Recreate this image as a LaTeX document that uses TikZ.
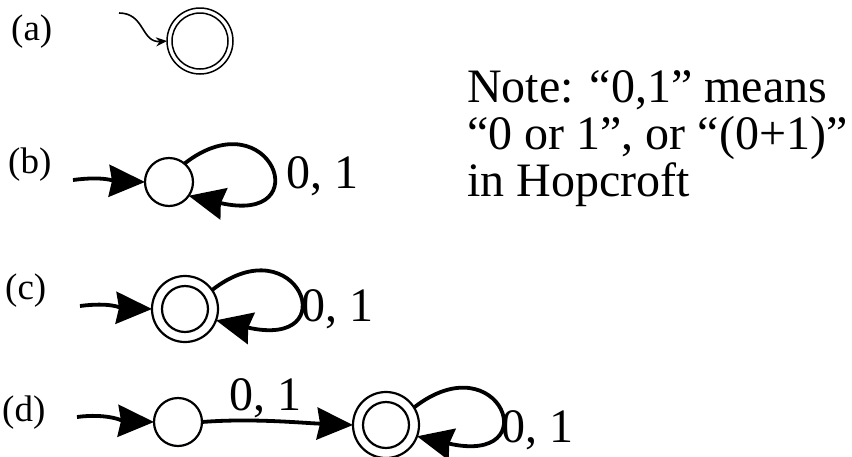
\documentclass[tikz,border=0pt]{standalone}
\usepackage{fontspec}
\setmainfont{Liberation Serif}
\usetikzlibrary{arrows.meta}
\begin{document}
\begin{tikzpicture}[x=1pt,y=-1pt,
  state/.style={circle,draw,line width=2.2pt,inner sep=0pt,outer sep=0pt,minimum size=48pt},
  accout/.style={circle,draw,line width=2.2pt,inner sep=0pt,outer sep=0pt,minimum size=66pt},
  accin/.style={circle,draw,line width=2.2pt,inner sep=0pt,minimum size=46pt},
  bigtip/.style={-{Stealth[length=36pt,width=32pt,inset=3pt]}},
  edge/.style={line width=3.8pt,bigtip},
  tag/.style={font=\fontsize{37}{37}\selectfont,anchor=base west,inner sep=0pt},
  lab/.style={font=\fontsize{48}{48}\selectfont,anchor=base west,inner sep=0pt},
]
\useasboundingbox (0,0) rectangle (852,456);

% (a)
\node[tag] (ta) at (11,40) {(a)};
\node[circle,draw,line width=1.5pt,minimum size=66pt,inner sep=0pt,outer sep=0pt] (a1) at (200,41) {};
\node[circle,draw,line width=1.5pt,minimum size=56pt,inner sep=0pt] (a1in) at (a1) {};
\coordinate (as) at (119,13);
\draw[line width=1.6pt,-{Stealth[length=11pt,width=9pt]}] (as) .. controls +(26,0) and +(-26,2) .. (a1.west);

% (b)
\node[tag] (tb) at (8,173) {(b)};
\node[state] (b1) at (169,182) {};
\coordinate (bs) at (73,180);
\draw[edge] (bs) .. controls +(30,-4) and +(-30,-1) .. (b1.west);
\draw[edge] (b1.50) .. controls +(86,-67) and +(131,30) .. (b1.-35);
\node[lab] (lb) at (286,188) {0, 1};

% (c)
\node[tag] (tc) at (5,299) {(c)};
\node[accout] (c1) at (185,309) {};
\node[accin] (c1in) at (c1) {};
\coordinate (cs) at (80,306);
\draw[edge] (cs) .. controls +(30,-4) and +(-30,-1) .. (c1.west);
\draw[edge] (c1.35) .. controls +(86,-67) and +(131,30) .. (c1.-20);
\node[lab] (lc) at (301,321) {0, 1};

% (d)
\node[tag] (td) at (2,421) {(d)};
\node[state] (d1) at (178,422) {};
\node[accout] (d2) at (386,425) {};
\node[accin] (d2in) at (d2) {};
\coordinate (ds) at (77,417);
\draw[edge] (ds) .. controls +(30,-4) and +(-30,-1) .. (d1.west);
\draw[edge] (d1.east) .. controls +(50,-4) and +(-50,-2) .. (d2.west);
\node[lab] (ld1) at (229,410) {0, 1};
\draw[edge] (d2.32) .. controls +(86,-67) and +(131,30) .. (d2.-20);
\node[lab] (ld2) at (501,442) {0, 1};

% note
\node[lab] (n1) at (467,102) {Note: “0,1” means};
\node[lab] (n2) at (467,149) {“0 or 1”, or “(0+1)”};
\node[lab] (n3) at (467,196) {in Hopcroft};
\end{tikzpicture}
\end{document}
